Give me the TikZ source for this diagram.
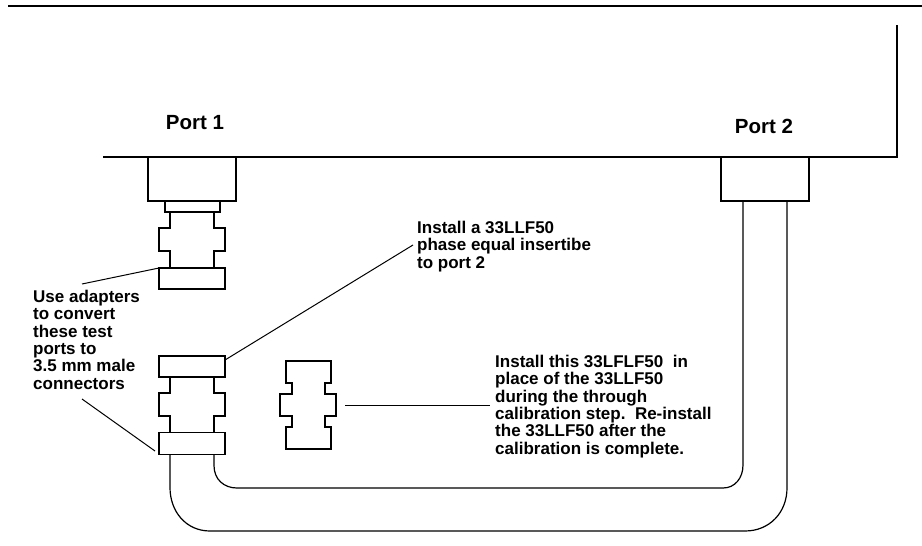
\documentclass[tikz,border=0pt]{standalone}
\usepackage{fontspec}
\setmainfont{Liberation Sans}
\usetikzlibrary{calc}
\tikzstyle{housing} = [rectangle, draw=black, line width=1.2pt, inner sep=0pt, outer sep=0pt, fill=white]
\tikzstyle{wire} = [draw=black, line width=1.2pt]
\tikzstyle{leader} = [draw=black, line width=1pt]
\tikzstyle{note} = [anchor=north west, align=left, inner sep=0pt, font=\bfseries\fontsize{17}{17.3}\selectfont]
\tikzstyle{portlabel} = [inner sep=0pt, font=\bfseries\fontsize{20.5}{22}\selectfont]
\tikzset{
    adapterbody/.pic={
        \draw [wire] (-22,0) -- (-22,16) -- (-33,16) -- (-33,39) -- (-22,39) -- (-22,56);
        \draw [wire] (22,0) -- (22,16) -- (33,16) -- (33,39) -- (22,39) -- (22,56);
    }
}

\begin{document}
\begin{tikzpicture}[x=1pt, y=-1pt]
    \useasboundingbox (0,0) rectangle (922,546);

    % Instrument outline
    \draw [line width=1.3pt] (8,6) -- (922,6);
    \draw [wire] (103,157) -- (897,157) -- (897,25);

    % Port 1 side
    \node (porta) [housing, minimum width=88pt, minimum height=44pt] at (192,179) {};
    \node (collar) [housing, minimum width=55pt, minimum height=11pt] at (192.5,206.5) {};
    \pic at (192,212) {adapterbody};
    \node (enda) [housing, minimum width=66pt, minimum height=21pt] at (192,278.5) {};

    % Insert at the end of the cable
    \node (inserttop) [housing, minimum width=66pt, minimum height=21pt] at (192,366.5) {};
    \pic at (192,377) {adapterbody};
    \node (insertlow) [housing, minimum width=66pt, minimum height=22pt] at (192,443.5) {};

    % Port 2 side
    \node (portb) [housing, minimum width=88pt, minimum height=44pt] at (765,179) {};

    % Cable
    \draw [wire] ($(insertlow.south west)+(11,0)$) -- ++(0,33) .. controls +(0,24) and (186,531) .. (210,531)
        -- (745,531) .. controls (770,531) and (787,512) .. (787,488) -- ($(portb.south)+(22,0)$);
    \draw [wire] ($(insertlow.south east)+(-11,0)$) -- ++(0,11) .. controls +(0,14) and (224,488) .. (237,488)
        -- (723,488) .. controls (735,488) and (743,478) .. (743,465) -- ($(portb.south)+(-22,0)$);

    % Spare adapter
    \draw [wire] (286,361) -- (331,361) -- (331,383) -- (325,383) -- (325,394) -- (336,394) -- (336,416)
        -- (325,416) -- (325,427) -- (331,427) -- (331,449) -- (286,449) -- (286,427) -- (292,427)
        -- (292,416) -- (280,416) -- (280,394) -- (292,394) -- (292,383) -- (286,383) -- cycle;
    \coordinate (sparetip) at (345,405);

    % Labels
    \node (labela) [portlabel] at (195,123) {Port 1};
    \node (labelb) [portlabel] at (764,126) {Port 2};
    \node (noteuse) [note] at (33,290) {Use adapters\\to convert\\these test\\ports to\\3.5 mm male\\connectors};
    \node (noteinsert) [note] at (417,221) {Install a 33LLF50\\phase equal insertibe\\to port 2};
    \node (noteswap) [note] at (495,355) {Install this 33LFLF50\ \ in\\place of the 33LLF50\\during the through\\calibration step.\ \ Re-install\\the 33LLF50 after the\\calibration is complete.};

    % Leader lines
    \coordinate (usetop) at (82,284);
    \coordinate (uselow) at (82,399);
    \coordinate (uselowend) at (155,451);
    \coordinate (insertend) at (413,245);
    \coordinate (swapend) at (490,405);
    \draw [leader] (usetop) -- (enda.north west);
    \draw [leader] (uselow) -- (uselowend);
    \draw [leader] (inserttop.east |- 0,360) -- (insertend);
    \draw [leader] (sparetip) -- (swapend);
\end{tikzpicture}
\end{document}
